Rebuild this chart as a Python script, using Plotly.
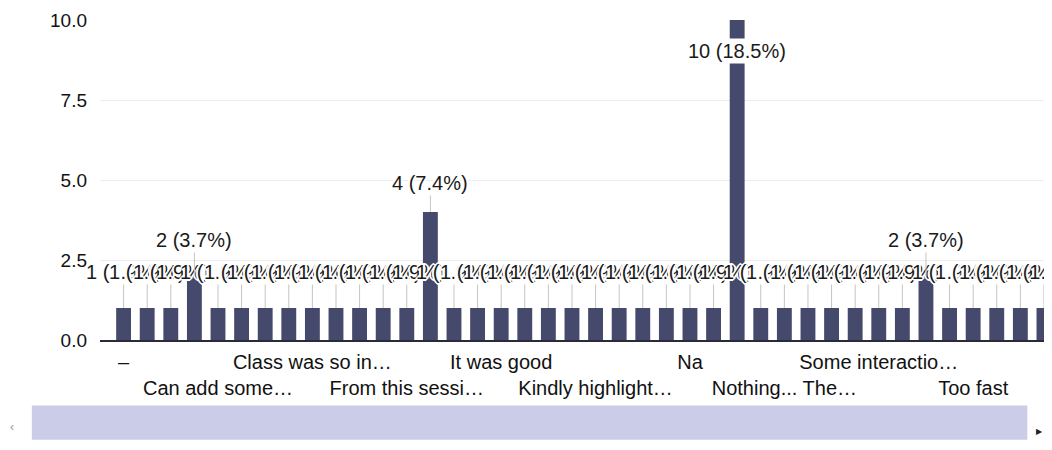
import plotly.graph_objects as go

categories = [
    "–", "All good", "Amazing session", "Awesome",
    "Can add some more examples", "Can be improved", "Clarity", "Class was good",
    "Class was so interactive", "Everything was clear", "Excellent", "Fine",
    "From this session I learned a lot", "Good", "Good session", "Great",
    "It was good", "It was helpful", "It was informative", "Keep it up",
    "Kindly highlight important topics", "Less time", "More examples", "More practice",
    "Na", "Nil", "Nothing", "Nothing much",
    "Nothing... The session was good", "Ok", "Pace was fast", "Satisfied",
    "Some interaction needed", "Speed", "Thank you", "The session was useful",
    "Too fast", "Useful", "Very good", "Well explained",
]
counts = [
    1, 1, 1, 2,
    1, 1, 1, 1,
    1, 1, 1, 1,
    1, 4, 1, 1,
    1, 1, 1, 1,
    1, 1, 1, 1,
    1, 1, 10, 1,
    1, 1, 1, 1,
    1, 1, 2, 1,
    1, 1, 1, 1,
]
tick_labels = [
    "–", "Can add some…", "Class was so in…", "From this sessi…", "It was good",
    "Kindly highlight…", "Na", "Nothing... The…", "Some interactio…", "Too fast",
]
y_ticks = [0, 2.5, 5, 7.5, 10]

n = len(categories)
total = sum(counts)
xs = list(range(n))
tick_pos = list(range(0, n, 4))[:len(tick_labels)]

FONT = "Liberation Sans, Arial, sans-serif"
BAR = "#45496b"
FS = 20

fig = go.Figure()
fig.add_trace(go.Bar(
    x=xs, y=counts, marker_color=BAR, marker_line_width=0,
    customdata=categories, hovertemplate="%{customdata}: %{y}<extra></extra>",
))

halo = ("2px 0 0 #fff, -2px 0 0 #fff, 0 2px 0 #fff, 0 -2px 0 #fff, "
        "1px 1px 0 #fff, -1px -1px 0 #fff, 1px -1px 0 #fff, -1px 1px 0 #fff")

ymax = max(y_ticks)
annotations = []
for i, v in enumerate(counts):
    txt = f"{v} ({v / total * 100:.1f}%)"
    if v >= ymax:
        annotations.append(dict(
            x=i, y=v, xref="x", yref="y", text=txt, showarrow=False,
            yshift=-31, bgcolor="#ffffff", borderpad=1,
            font=dict(family=FONT, size=FS, color="#1a1a1a"),
        ))
    else:
        annotations.append(dict(
            x=i, y=v, xref="x", yref="y", text=txt, showarrow=True,
            ax=0, ay=-29 if v >= 4 else -36, arrowhead=0, arrowwidth=1,
            arrowcolor="#c4c4c4", standoff=0,
            font=dict(family=FONT, size=FS, color="#1a1a1a", shadow=halo),
        ))

# scrollbar decoration
annotations.append(dict(xref="paper", yref="paper", x=-0.096, y=-0.3, text="‹",
                        showarrow=False, font=dict(family=FONT, size=12, color="#999")))
annotations.append(dict(xref="paper", yref="paper", x=0.984, y=-0.305, text="▶",
                        showarrow=False, font=dict(family="DejaVu Sans", size=8, color="#222")))

xrange = [-1.0, 39.68]

fig.update_layout(
    width=1052, height=450,
    margin=dict(l=92, r=0, t=12, b=118),
    paper_bgcolor="white", plot_bgcolor="white",
    showlegend=False, bargap=0.37,
    font=dict(family=FONT, size=FS, color="#1a1a1a"),
    annotations=annotations,
    shapes=[dict(type="rect", xref="paper", yref="paper",
                 x0=-0.071, x1=0.966, y0=-0.205, y1=-0.312,
                 fillcolor="#cacce8", line_width=0, layer="below")],
    xaxis=dict(
        range=xrange, tickmode="array", automargin=False,
        tickvals=tick_pos[0::2], ticktext=tick_labels[0::2],
        showgrid=False, zeroline=False, showline=True,
        linecolor="#2a2a3a", linewidth=2, ticks="",
        ticklabelstandoff=3,
        tickfont=dict(family=FONT, size=FS, color="#111"),
    ),
    xaxis2=dict(
        range=xrange, overlaying="x", side="bottom", anchor="y", automargin=False,
        tickmode="array", tickvals=tick_pos[1::2], ticktext=tick_labels[1::2],
        showgrid=False, zeroline=False, showline=False, ticks="",
        ticklabelstandoff=34,
        tickfont=dict(family=FONT, size=FS, color="#111"),
    ),
    yaxis=dict(
        range=[0, ymax], tickmode="array", tickvals=y_ticks, automargin=False,
        ticktext=[f"{t:.1f}" for t in y_ticks],
        showgrid=True, gridcolor="#ececec", gridwidth=1,
        zeroline=False, showline=False, ticks="",
        ticklabelstandoff=12,
        tickfont=dict(family=FONT, size=19, color="#111"),
    ),
)
# invisible trace so xaxis2 is rendered
fig.add_trace(go.Scatter(x=[0], y=[0], xaxis="x2", mode="markers",
                         marker=dict(opacity=0), hoverinfo="skip"))

fig.write_html("out.html")
